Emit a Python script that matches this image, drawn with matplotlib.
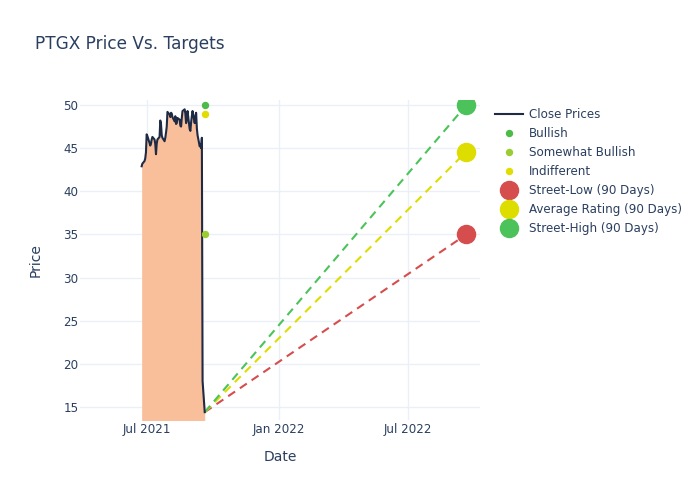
import matplotlib
matplotlib.use("Agg")
import matplotlib.pyplot as plt
import matplotlib.dates as mdates
import pandas as pd
import numpy as np

# ---- data ----
price_start = "2021-06-24"
close_prices = [42.9, 43.2, 43.5, 43.8, 44.5, 46.6, 46.4, 45.6, 45.3, 45.5,
                46.0, 46.3, 46.0, 45.5, 44.3, 45.5, 46.0, 46.3, 48.2, 47.8,
                46.5, 46.2, 45.8, 46.2, 46.8, 47.5, 49.2, 48.9, 48.6, 49.1,
                49.0, 48.6, 48.1, 48.7, 47.8, 47.9, 48.5, 48.3, 47.6, 47.5,
                48.5, 49.3, 49.5, 49.0, 47.9, 48.3, 49.3, 47.2, 47.0, 48.0,
                48.7, 49.3, 47.9, 48.7, 49.1, 47.3, 46.5, 45.2, 45.4, 45.0,
                46.2, 18.0, 14.4]
price_dates = pd.bdate_range(price_start, periods=len(close_prices))

rating_date = "2021-09-20"
rating_names = ["Bullish", "Somewhat Bullish", "Indifferent"]
rating_values = [50.0, 35.0, 49.0]
rating_colors = ["#4CBB47", "#9ACD32", "#E2DC00"]

target_date = "2022-09-20"
target_names = ["Street-Low (90 Days)", "Average Rating (90 Days)", "Street-High (90 Days)"]
target_values = [35.0, 44.6, 50.0]
target_colors = ["#D64D4D", "#DDDD00", "#4CC35A"]

xtick_dates = ["2021-07-01", "2022-01-01", "2022-07-01"]
xtick_labels = ["Jul 2021", "Jan 2022", "Jul 2022"]
ytick_values = [15, 20, 25, 30, 35, 40, 45, 50]

# ---- style ----
text_color = "#2A3F5F"
grid_color = "#EBF0F8"
plt.rcParams['font.family'] = ['DejaVu Sans']

fig = plt.figure(figsize=(7, 5), dpi=100)
ax = fig.add_axes([80/700, 80/500, 400/700, 320/500])

ax.fill_between(price_dates, close_prices, 0, color="#F9BF9B", linewidth=0, zorder=1)
ax.plot(price_dates, close_prices, color="#1F2A44", linewidth=1.5, label="Close Prices", zorder=3)

rd = pd.Timestamp(rating_date)
for n, v, c in zip(rating_names, rating_values, rating_colors):
    ax.plot([rd], [v], 'o', color=c, markersize=4.3, linestyle='none', label=n, zorder=4)

last_date = price_dates[-1]
last_price = close_prices[-1]
td = pd.Timestamp(target_date)
for n, v, c in zip(target_names, target_values, target_colors):
    ax.plot([last_date, td], [last_price, v], color=c, linewidth=1.5,
            linestyle=(0, (4, 2.8)), zorder=2)
for n, v, c in zip(target_names, target_values, target_colors):
    ax.plot([td], [v], 'o', color=c, markersize=13, linestyle='none', label=n, zorder=5)

ax.set_xlim(pd.Timestamp("2021-03-30"), pd.Timestamp("2022-10-09"))
ax.set_ylim(13.49, 50.58)

ax.set_xticks([pd.Timestamp(d) for d in xtick_dates])
ax.set_xticklabels(xtick_labels)
ax.set_yticks(ytick_values)
ax.tick_params(axis='both', length=0, labelsize=8.6, labelcolor=text_color)
ax.tick_params(axis='x', pad=2)
ax.tick_params(axis='y', pad=1)
ax.grid(True, color=grid_color, linewidth=1, zorder=0)
ax.set_axisbelow(True)
for s in ax.spines.values():
    s.set_visible(False)

ax.set_xlabel("Date", fontsize=10, color=text_color, labelpad=10)
ax.set_ylabel("Price", fontsize=10, color=text_color, labelpad=15)

fig.text(35/700, 1 - 44/500, "PTGX Price Vs. Targets", fontsize=12.2,
         color=text_color, va='center', ha='left')

leg = fig.legend(loc='upper left', bbox_to_anchor=(495/700, 1 - 108/500),
                 frameon=False, fontsize=8.6, labelcolor=text_color,
                 handlelength=2.35, handletextpad=0.5, labelspacing=0.5,
                 borderaxespad=0, borderpad=0)

fig.savefig("out.png", dpi=100)
